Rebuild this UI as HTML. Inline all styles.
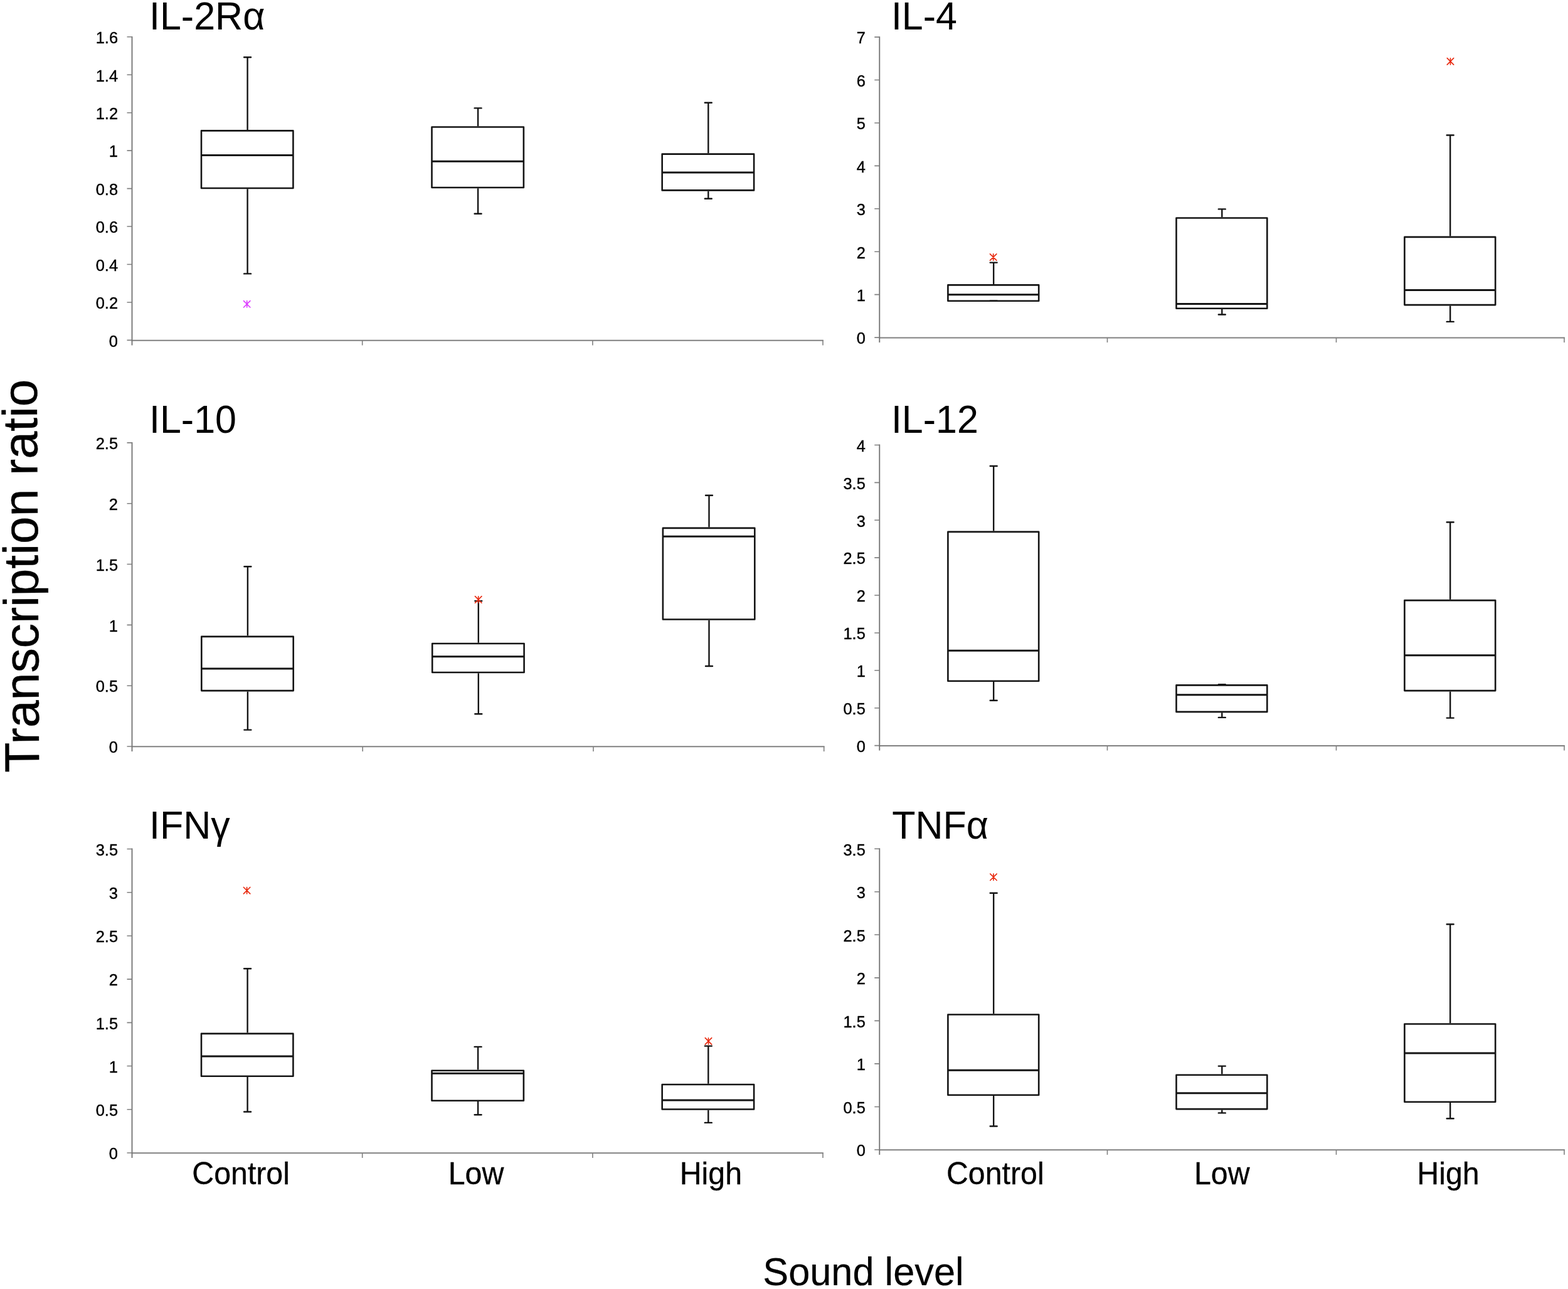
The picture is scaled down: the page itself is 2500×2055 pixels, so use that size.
<!DOCTYPE html>
<html lang="en">
<head>
<meta charset="utf-8">
<title>Figure</title>
<style>
html,body{margin:0;padding:0;background:#fff;}
body{width:2500px;height:2055px;}
svg{display:block;}
text{font-family:"Liberation Sans",sans-serif;fill:#000;}
</style>
</head>
<body>
<svg width="2500" height="2055" viewBox="0 0 2500 2055">
<rect width="2500" height="2055" fill="#fff"/>
<path d="M209.60,542.70H1312.90" fill="none" stroke="#808080" stroke-width="2.0"/>
<path d="M210.50,57.90V550.40" fill="none" stroke="#707070" stroke-width="1.8"/>
<text transform="translate(188.00,552.70) scale(1,1.04)" font-size="25.4" text-anchor="end" stroke="#000" stroke-width="0.4">0</text>
<text transform="translate(188.00,492.25) scale(1,1.04)" font-size="25.4" text-anchor="end" stroke="#000" stroke-width="0.4">0.2</text>
<text transform="translate(188.00,431.80) scale(1,1.04)" font-size="25.4" text-anchor="end" stroke="#000" stroke-width="0.4">0.4</text>
<text transform="translate(188.00,371.35) scale(1,1.04)" font-size="25.4" text-anchor="end" stroke="#000" stroke-width="0.4">0.6</text>
<text transform="translate(188.00,310.90) scale(1,1.04)" font-size="25.4" text-anchor="end" stroke="#000" stroke-width="0.4">0.8</text>
<text transform="translate(188.00,250.45) scale(1,1.04)" font-size="25.4" text-anchor="end" stroke="#000" stroke-width="0.4">1</text>
<text transform="translate(188.00,190.00) scale(1,1.04)" font-size="25.4" text-anchor="end" stroke="#000" stroke-width="0.4">1.2</text>
<text transform="translate(188.00,129.55) scale(1,1.04)" font-size="25.4" text-anchor="end" stroke="#000" stroke-width="0.4">1.4</text>
<text transform="translate(188.00,69.10) scale(1,1.04)" font-size="25.4" text-anchor="end" stroke="#000" stroke-width="0.4">1.6</text>
<path d="M202.50,542.40H210.50M202.50,481.95H210.50M202.50,421.50H210.50M202.50,361.05H210.50M202.50,300.60H210.50M202.50,240.15H210.50M202.50,179.70H210.50M202.50,119.25H210.50M202.50,58.80H210.50M577.70,542.40V550.40M944.90,542.40V550.40M1312.00,542.40V550.40" fill="none" stroke="#808080" stroke-width="1.6"/>
<text transform="translate(238.00,46.80) scale(1,1.042)" font-size="61.0">IL-2Rα</text>
<rect x="321.00" y="208.40" width="146.40" height="91.60" fill="#fff" stroke="#141414" stroke-width="2.6" stroke-linejoin="round"/>
<path d="M394.60,91.20V207.10M394.60,301.30V436.40" fill="none" stroke="#141414" stroke-width="2.4"/>
<path d="M389.10,91.20H400.10M389.10,436.40H400.10" fill="none" stroke="#141414" stroke-width="2.4" stroke-linecap="round"/>
<path d="M321.00,247.60H467.40" fill="none" stroke="#141414" stroke-width="3.0"/>
<rect x="688.50" y="202.50" width="146.40" height="96.50" fill="#fff" stroke="#141414" stroke-width="2.6" stroke-linejoin="round"/>
<path d="M762.10,172.40V201.20M762.10,300.30V340.80" fill="none" stroke="#141414" stroke-width="2.4"/>
<path d="M756.60,172.40H767.60M756.60,340.80H767.60" fill="none" stroke="#141414" stroke-width="2.4" stroke-linecap="round"/>
<path d="M688.50,257.30H834.90" fill="none" stroke="#141414" stroke-width="3.0"/>
<rect x="1055.70" y="245.60" width="146.40" height="57.80" fill="#fff" stroke="#141414" stroke-width="2.6" stroke-linejoin="round"/>
<path d="M1129.30,163.70V244.30M1129.30,304.70V316.70" fill="none" stroke="#141414" stroke-width="2.4"/>
<path d="M1123.80,163.70H1134.80M1123.80,316.70H1134.80" fill="none" stroke="#141414" stroke-width="2.4" stroke-linecap="round"/>
<path d="M1055.70,275.00H1202.10" fill="none" stroke="#141414" stroke-width="3.0"/>
<path d="M388.50,479.60L398.90,490.00M398.90,479.60L388.50,490.00M393.70,479.60V490.00" fill="none" stroke="#dc3cff" stroke-width="1.65" stroke-linecap="round"/>
<path d="M1401.40,538.40H2494.90" fill="none" stroke="#808080" stroke-width="2.0"/>
<path d="M1402.30,58.20V546.10" fill="none" stroke="#707070" stroke-width="1.8"/>
<text transform="translate(1379.80,548.40) scale(1,1.04)" font-size="25.4" text-anchor="end" stroke="#000" stroke-width="0.4">0</text>
<text transform="translate(1379.80,479.97) scale(1,1.04)" font-size="25.4" text-anchor="end" stroke="#000" stroke-width="0.4">1</text>
<text transform="translate(1379.80,411.54) scale(1,1.04)" font-size="25.4" text-anchor="end" stroke="#000" stroke-width="0.4">2</text>
<text transform="translate(1379.80,343.11) scale(1,1.04)" font-size="25.4" text-anchor="end" stroke="#000" stroke-width="0.4">3</text>
<text transform="translate(1379.80,274.69) scale(1,1.04)" font-size="25.4" text-anchor="end" stroke="#000" stroke-width="0.4">4</text>
<text transform="translate(1379.80,206.26) scale(1,1.04)" font-size="25.4" text-anchor="end" stroke="#000" stroke-width="0.4">5</text>
<text transform="translate(1379.80,137.83) scale(1,1.04)" font-size="25.4" text-anchor="end" stroke="#000" stroke-width="0.4">6</text>
<text transform="translate(1379.80,69.40) scale(1,1.04)" font-size="25.4" text-anchor="end" stroke="#000" stroke-width="0.4">7</text>
<path d="M1394.30,538.10H1402.30M1394.30,469.67H1402.30M1394.30,401.24H1402.30M1394.30,332.81H1402.30M1394.30,264.39H1402.30M1394.30,195.96H1402.30M1394.30,127.53H1402.30M1394.30,59.10H1402.30M1765.50,538.10V546.10M2130.50,538.10V546.10M2494.00,538.10V546.10" fill="none" stroke="#808080" stroke-width="1.6"/>
<text transform="translate(1420.90,46.80) scale(1,1.042)" font-size="61.0">IL-4</text>
<rect x="1511.40" y="454.40" width="144.80" height="25.40" fill="#fff" stroke="#141414" stroke-width="2.6" stroke-linejoin="round"/>
<path d="M1584.20,418.60V453.10M1584.20,481.10V479.80" fill="none" stroke="#141414" stroke-width="2.4"/>
<path d="M1578.70,418.60H1589.70M1578.70,479.80H1589.70" fill="none" stroke="#141414" stroke-width="2.4" stroke-linecap="round"/>
<path d="M1511.40,469.80H1656.20" fill="none" stroke="#141414" stroke-width="3.0"/>
<rect x="1875.50" y="347.50" width="144.80" height="144.30" fill="#fff" stroke="#141414" stroke-width="2.6" stroke-linejoin="round"/>
<path d="M1948.30,333.40V346.20M1948.30,493.10V501.50" fill="none" stroke="#141414" stroke-width="2.4"/>
<path d="M1942.80,333.40H1953.80M1942.80,501.50H1953.80" fill="none" stroke="#141414" stroke-width="2.4" stroke-linecap="round"/>
<path d="M1875.50,484.50H2020.30" fill="none" stroke="#141414" stroke-width="3.0"/>
<rect x="2239.40" y="377.90" width="144.80" height="108.20" fill="#fff" stroke="#141414" stroke-width="2.6" stroke-linejoin="round"/>
<path d="M2312.20,215.50V376.60M2312.20,487.40V512.90" fill="none" stroke="#141414" stroke-width="2.4"/>
<path d="M2306.70,215.50H2317.70M2306.70,512.90H2317.70" fill="none" stroke="#141414" stroke-width="2.4" stroke-linecap="round"/>
<path d="M2239.40,462.40H2384.20" fill="none" stroke="#141414" stroke-width="3.0"/>
<path d="M1578.50,404.80L1588.90,415.20M1588.90,404.80L1578.50,415.20M1583.70,404.80V415.20" fill="none" stroke="#e8290f" stroke-width="1.65" stroke-linecap="round"/>
<path d="M2307.30,92.70L2317.70,103.10M2317.70,92.70L2307.30,103.10M2312.50,92.70V103.10" fill="none" stroke="#e8290f" stroke-width="1.65" stroke-linecap="round"/>
<path d="M209.60,1190.30H1314.60" fill="none" stroke="#808080" stroke-width="2.0"/>
<path d="M210.50,705.00V1198.00" fill="none" stroke="#707070" stroke-width="1.8"/>
<text transform="translate(188.00,1200.30) scale(1,1.04)" font-size="25.4" text-anchor="end" stroke="#000" stroke-width="0.4">0</text>
<text transform="translate(188.00,1103.48) scale(1,1.04)" font-size="25.4" text-anchor="end" stroke="#000" stroke-width="0.4">0.5</text>
<text transform="translate(188.00,1006.66) scale(1,1.04)" font-size="25.4" text-anchor="end" stroke="#000" stroke-width="0.4">1</text>
<text transform="translate(188.00,909.84) scale(1,1.04)" font-size="25.4" text-anchor="end" stroke="#000" stroke-width="0.4">1.5</text>
<text transform="translate(188.00,813.02) scale(1,1.04)" font-size="25.4" text-anchor="end" stroke="#000" stroke-width="0.4">2</text>
<text transform="translate(188.00,716.20) scale(1,1.04)" font-size="25.4" text-anchor="end" stroke="#000" stroke-width="0.4">2.5</text>
<path d="M202.50,1190.00H210.50M202.50,1093.18H210.50M202.50,996.36H210.50M202.50,899.54H210.50M202.50,802.72H210.50M202.50,705.90H210.50M578.20,1190.00V1198.00M946.00,1190.00V1198.00M1313.70,1190.00V1198.00" fill="none" stroke="#808080" stroke-width="1.6"/>
<text transform="translate(238.00,690.00) scale(1,1.042)" font-size="61.0">IL-10</text>
<rect x="321.30" y="1014.90" width="146.40" height="86.20" fill="#fff" stroke="#141414" stroke-width="2.6" stroke-linejoin="round"/>
<path d="M394.90,903.30V1013.60M394.90,1102.40V1163.60" fill="none" stroke="#141414" stroke-width="2.4"/>
<path d="M389.40,903.30H400.40M389.40,1163.60H400.40" fill="none" stroke="#141414" stroke-width="2.4" stroke-linecap="round"/>
<path d="M321.30,1066.00H467.70" fill="none" stroke="#141414" stroke-width="3.0"/>
<rect x="689.20" y="1026.00" width="146.40" height="46.00" fill="#fff" stroke="#141414" stroke-width="2.6" stroke-linejoin="round"/>
<path d="M762.80,958.10V1024.70M762.80,1073.30V1138.20" fill="none" stroke="#141414" stroke-width="2.4"/>
<path d="M757.30,958.10H768.30M757.30,1138.20H768.30" fill="none" stroke="#141414" stroke-width="2.4" stroke-linecap="round"/>
<path d="M689.20,1046.70H835.60" fill="none" stroke="#141414" stroke-width="3.0"/>
<rect x="1056.90" y="841.90" width="146.40" height="145.60" fill="#fff" stroke="#141414" stroke-width="2.6" stroke-linejoin="round"/>
<path d="M1130.50,789.70V840.60M1130.50,988.80V1062.00" fill="none" stroke="#141414" stroke-width="2.4"/>
<path d="M1125.00,789.70H1136.00M1125.00,1062.00H1136.00" fill="none" stroke="#141414" stroke-width="2.4" stroke-linecap="round"/>
<path d="M1056.90,855.20H1203.30" fill="none" stroke="#141414" stroke-width="3.0"/>
<path d="M757.50,950.70L767.90,961.10M767.90,950.70L757.50,961.10M762.70,950.70V961.10" fill="none" stroke="#e8290f" stroke-width="1.65" stroke-linecap="round"/>
<path d="M1401.40,1188.90H2494.90" fill="none" stroke="#808080" stroke-width="2.0"/>
<path d="M1402.30,708.60V1196.60" fill="none" stroke="#707070" stroke-width="1.8"/>
<text transform="translate(1379.80,1198.90) scale(1,1.04)" font-size="25.4" text-anchor="end" stroke="#000" stroke-width="0.4">0</text>
<text transform="translate(1379.80,1139.01) scale(1,1.04)" font-size="25.4" text-anchor="end" stroke="#000" stroke-width="0.4">0.5</text>
<text transform="translate(1379.80,1079.12) scale(1,1.04)" font-size="25.4" text-anchor="end" stroke="#000" stroke-width="0.4">1</text>
<text transform="translate(1379.80,1019.24) scale(1,1.04)" font-size="25.4" text-anchor="end" stroke="#000" stroke-width="0.4">1.5</text>
<text transform="translate(1379.80,959.35) scale(1,1.04)" font-size="25.4" text-anchor="end" stroke="#000" stroke-width="0.4">2</text>
<text transform="translate(1379.80,899.46) scale(1,1.04)" font-size="25.4" text-anchor="end" stroke="#000" stroke-width="0.4">2.5</text>
<text transform="translate(1379.80,839.57) scale(1,1.04)" font-size="25.4" text-anchor="end" stroke="#000" stroke-width="0.4">3</text>
<text transform="translate(1379.80,779.69) scale(1,1.04)" font-size="25.4" text-anchor="end" stroke="#000" stroke-width="0.4">3.5</text>
<text transform="translate(1379.80,719.80) scale(1,1.04)" font-size="25.4" text-anchor="end" stroke="#000" stroke-width="0.4">4</text>
<path d="M1394.30,1188.60H1402.30M1394.30,1128.71H1402.30M1394.30,1068.82H1402.30M1394.30,1008.94H1402.30M1394.30,949.05H1402.30M1394.30,889.16H1402.30M1394.30,829.27H1402.30M1394.30,769.39H1402.30M1394.30,709.50H1402.30M1765.50,1188.60V1196.60M2130.50,1188.60V1196.60M2494.00,1188.60V1196.60" fill="none" stroke="#808080" stroke-width="1.6"/>
<text transform="translate(1420.90,690.00) scale(1,1.042)" font-size="61.0">IL-12</text>
<rect x="1511.40" y="847.90" width="144.80" height="237.90" fill="#fff" stroke="#141414" stroke-width="2.6" stroke-linejoin="round"/>
<path d="M1584.20,743.00V846.60M1584.20,1087.10V1116.80" fill="none" stroke="#141414" stroke-width="2.4"/>
<path d="M1578.70,743.00H1589.70M1578.70,1116.80H1589.70" fill="none" stroke="#141414" stroke-width="2.4" stroke-linecap="round"/>
<path d="M1511.40,1037.30H1656.20" fill="none" stroke="#141414" stroke-width="3.0"/>
<rect x="1875.50" y="1092.40" width="144.80" height="42.50" fill="#fff" stroke="#141414" stroke-width="2.6" stroke-linejoin="round"/>
<path d="M1948.30,1091.10V1091.10M1948.30,1136.20V1143.90" fill="none" stroke="#141414" stroke-width="2.4"/>
<path d="M1942.80,1091.10H1953.80M1942.80,1143.90H1953.80" fill="none" stroke="#141414" stroke-width="2.4" stroke-linecap="round"/>
<path d="M1875.50,1107.80H2020.30" fill="none" stroke="#141414" stroke-width="3.0"/>
<rect x="2239.40" y="957.10" width="144.80" height="144.00" fill="#fff" stroke="#141414" stroke-width="2.6" stroke-linejoin="round"/>
<path d="M2312.20,832.50V955.80M2312.20,1102.40V1144.60" fill="none" stroke="#141414" stroke-width="2.4"/>
<path d="M2306.70,832.50H2317.70M2306.70,1144.60H2317.70" fill="none" stroke="#141414" stroke-width="2.4" stroke-linecap="round"/>
<path d="M2239.40,1044.70H2384.20" fill="none" stroke="#141414" stroke-width="3.0"/>
<path d="M209.60,1838.30H1312.90" fill="none" stroke="#808080" stroke-width="2.0"/>
<path d="M210.50,1352.60V1846.00" fill="none" stroke="#707070" stroke-width="1.8"/>
<text transform="translate(188.00,1848.30) scale(1,1.04)" font-size="25.4" text-anchor="end" stroke="#000" stroke-width="0.4">0</text>
<text transform="translate(188.00,1779.09) scale(1,1.04)" font-size="25.4" text-anchor="end" stroke="#000" stroke-width="0.4">0.5</text>
<text transform="translate(188.00,1709.87) scale(1,1.04)" font-size="25.4" text-anchor="end" stroke="#000" stroke-width="0.4">1</text>
<text transform="translate(188.00,1640.66) scale(1,1.04)" font-size="25.4" text-anchor="end" stroke="#000" stroke-width="0.4">1.5</text>
<text transform="translate(188.00,1571.44) scale(1,1.04)" font-size="25.4" text-anchor="end" stroke="#000" stroke-width="0.4">2</text>
<text transform="translate(188.00,1502.23) scale(1,1.04)" font-size="25.4" text-anchor="end" stroke="#000" stroke-width="0.4">2.5</text>
<text transform="translate(188.00,1433.01) scale(1,1.04)" font-size="25.4" text-anchor="end" stroke="#000" stroke-width="0.4">3</text>
<text transform="translate(188.00,1363.80) scale(1,1.04)" font-size="25.4" text-anchor="end" stroke="#000" stroke-width="0.4">3.5</text>
<path d="M202.50,1838.00H210.50M202.50,1768.79H210.50M202.50,1699.57H210.50M202.50,1630.36H210.50M202.50,1561.14H210.50M202.50,1491.93H210.50M202.50,1422.71H210.50M202.50,1353.50H210.50M577.70,1838.00V1846.00M944.90,1838.00V1846.00M1312.00,1838.00V1846.00" fill="none" stroke="#808080" stroke-width="1.6"/>
<text transform="translate(238.00,1336.60) scale(1,1.042)" font-size="61.0">IFNγ</text>
<rect x="321.00" y="1647.90" width="146.40" height="67.80" fill="#fff" stroke="#141414" stroke-width="2.6" stroke-linejoin="round"/>
<path d="M394.60,1544.30V1646.60M394.60,1717.00V1772.50" fill="none" stroke="#141414" stroke-width="2.4"/>
<path d="M389.10,1544.30H400.10M389.10,1772.50H400.10" fill="none" stroke="#141414" stroke-width="2.4" stroke-linecap="round"/>
<path d="M321.00,1684.00H467.40" fill="none" stroke="#141414" stroke-width="3.0"/>
<rect x="688.50" y="1706.70" width="146.40" height="48.10" fill="#fff" stroke="#141414" stroke-width="2.6" stroke-linejoin="round"/>
<path d="M762.10,1668.90V1705.40M762.10,1756.10V1777.20" fill="none" stroke="#141414" stroke-width="2.4"/>
<path d="M756.60,1668.90H767.60M756.60,1777.20H767.60" fill="none" stroke="#141414" stroke-width="2.4" stroke-linecap="round"/>
<path d="M688.50,1711.30H834.90" fill="none" stroke="#141414" stroke-width="3.0"/>
<rect x="1055.70" y="1729.00" width="146.40" height="39.50" fill="#fff" stroke="#141414" stroke-width="2.6" stroke-linejoin="round"/>
<path d="M1129.30,1667.60V1727.70M1129.30,1769.80V1789.90" fill="none" stroke="#141414" stroke-width="2.4"/>
<path d="M1123.80,1667.60H1134.80M1123.80,1789.90H1134.80" fill="none" stroke="#141414" stroke-width="2.4" stroke-linecap="round"/>
<path d="M1055.70,1754.10H1202.10" fill="none" stroke="#141414" stroke-width="3.0"/>
<path d="M388.40,1414.50L398.80,1424.90M398.80,1414.50L388.40,1424.90M393.60,1414.50V1424.90" fill="none" stroke="#e8290f" stroke-width="1.65" stroke-linecap="round"/>
<path d="M1124.30,1654.70L1134.70,1665.10M1134.70,1654.70L1124.30,1665.10M1129.50,1654.70V1665.10" fill="none" stroke="#e8290f" stroke-width="1.65" stroke-linecap="round"/>
<path d="M1401.40,1833.30H2494.90" fill="none" stroke="#808080" stroke-width="2.0"/>
<path d="M1402.30,1352.30V1841.00" fill="none" stroke="#707070" stroke-width="1.8"/>
<text transform="translate(1379.80,1843.30) scale(1,1.04)" font-size="25.4" text-anchor="end" stroke="#000" stroke-width="0.4">0</text>
<text transform="translate(1379.80,1774.76) scale(1,1.04)" font-size="25.4" text-anchor="end" stroke="#000" stroke-width="0.4">0.5</text>
<text transform="translate(1379.80,1706.21) scale(1,1.04)" font-size="25.4" text-anchor="end" stroke="#000" stroke-width="0.4">1</text>
<text transform="translate(1379.80,1637.67) scale(1,1.04)" font-size="25.4" text-anchor="end" stroke="#000" stroke-width="0.4">1.5</text>
<text transform="translate(1379.80,1569.13) scale(1,1.04)" font-size="25.4" text-anchor="end" stroke="#000" stroke-width="0.4">2</text>
<text transform="translate(1379.80,1500.59) scale(1,1.04)" font-size="25.4" text-anchor="end" stroke="#000" stroke-width="0.4">2.5</text>
<text transform="translate(1379.80,1432.04) scale(1,1.04)" font-size="25.4" text-anchor="end" stroke="#000" stroke-width="0.4">3</text>
<text transform="translate(1379.80,1363.50) scale(1,1.04)" font-size="25.4" text-anchor="end" stroke="#000" stroke-width="0.4">3.5</text>
<path d="M1394.30,1833.00H1402.30M1394.30,1764.46H1402.30M1394.30,1695.91H1402.30M1394.30,1627.37H1402.30M1394.30,1558.83H1402.30M1394.30,1490.29H1402.30M1394.30,1421.74H1402.30M1394.30,1353.20H1402.30M1765.50,1833.00V1841.00M2130.50,1833.00V1841.00M2494.00,1833.00V1841.00" fill="none" stroke="#808080" stroke-width="1.6"/>
<text transform="translate(1422.20,1336.60) scale(1,1.042)" font-size="61.0">TNFα</text>
<rect x="1511.40" y="1617.50" width="144.80" height="128.30" fill="#fff" stroke="#141414" stroke-width="2.6" stroke-linejoin="round"/>
<path d="M1584.20,1423.70V1616.20M1584.20,1747.10V1795.50" fill="none" stroke="#141414" stroke-width="2.4"/>
<path d="M1578.70,1423.70H1589.70M1578.70,1795.50H1589.70" fill="none" stroke="#141414" stroke-width="2.4" stroke-linecap="round"/>
<path d="M1511.40,1706.30H1656.20" fill="none" stroke="#141414" stroke-width="3.0"/>
<rect x="1875.50" y="1713.70" width="144.80" height="54.40" fill="#fff" stroke="#141414" stroke-width="2.6" stroke-linejoin="round"/>
<path d="M1948.30,1699.60V1712.40M1948.30,1769.40V1774.40" fill="none" stroke="#141414" stroke-width="2.4"/>
<path d="M1942.80,1699.60H1953.80M1942.80,1774.40H1953.80" fill="none" stroke="#141414" stroke-width="2.4" stroke-linecap="round"/>
<path d="M1875.50,1742.80H2020.30" fill="none" stroke="#141414" stroke-width="3.0"/>
<rect x="2239.40" y="1632.50" width="144.80" height="124.30" fill="#fff" stroke="#141414" stroke-width="2.6" stroke-linejoin="round"/>
<path d="M2312.20,1473.50V1631.20M2312.20,1758.10V1783.20" fill="none" stroke="#141414" stroke-width="2.4"/>
<path d="M2306.70,1473.50H2317.70M2306.70,1783.20H2317.70" fill="none" stroke="#141414" stroke-width="2.4" stroke-linecap="round"/>
<path d="M2239.40,1678.90H2384.20" fill="none" stroke="#141414" stroke-width="3.0"/>
<path d="M1578.80,1393.10L1589.20,1403.50M1589.20,1393.10L1578.80,1403.50M1584.00,1393.10V1403.50" fill="none" stroke="#e8290f" stroke-width="1.65" stroke-linecap="round"/>
<text transform="translate(306.30,1887.70) scale(1,1.03)" font-size="48.3" stroke="#000" stroke-width="0.3">Control</text>
<text transform="translate(714.70,1887.70) scale(1,1.03)" font-size="48.3" stroke="#000" stroke-width="0.3">Low</text>
<text transform="translate(1083.70,1887.70) scale(1,1.03)" font-size="48.3" stroke="#000" stroke-width="0.3">High</text>
<text transform="translate(1509.00,1887.90) scale(1,1.03)" font-size="48.3" stroke="#000" stroke-width="0.3">Control</text>
<text transform="translate(1904.00,1887.90) scale(1,1.03)" font-size="48.3" stroke="#000" stroke-width="0.3">Low</text>
<text transform="translate(2259.30,1887.90) scale(1,1.03)" font-size="48.3" stroke="#000" stroke-width="0.3">High</text>
<text transform="translate(1216.30,2049.00) scale(1,1.02)" font-size="61.3" stroke="#000" stroke-width="0.2">Sound level</text>
<text transform="translate(62.30,1231.40) rotate(-90.33) scale(1,0.99)" font-size="78.7" stroke="#000" stroke-width="0.4">Transcription ratio</text>
</svg>
</body>
</html>
